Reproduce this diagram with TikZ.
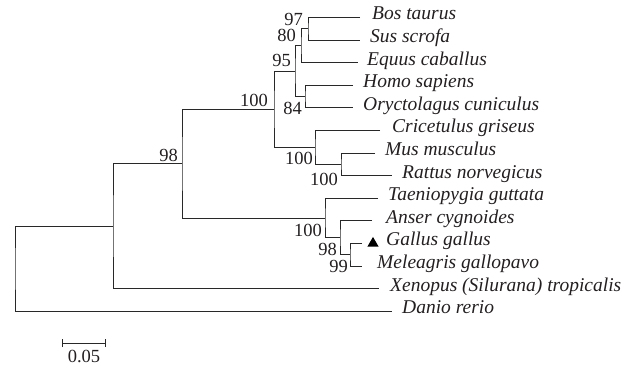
\documentclass[tikz,border=0pt]{standalone}
\usepackage{fontspec}
\setmainfont{Liberation Serif}
\usepackage{tikz}
\usetikzlibrary{arrows.meta,positioning,shapes.geometric}
\definecolor{treeline}{RGB}{40,40,40}
\definecolor{treetext}{RGB}{35,31,32}

\tikzset{
  branch/.style={treeline, line width=0.9pt},
  taxon/.style={anchor=mid west, inner sep=0pt, text=treetext, font=\fontsize{19.5}{23}\selectfont\itshape},
  boot/.style={anchor=east, inner sep=0pt, text=treetext, font=\fontsize{18.5}{22}\selectfont},
  marker/.style={regular polygon, regular polygon sides=3, fill=black, minimum size=13pt, inner sep=0pt},
}

\begin{document}
\begin{tikzpicture}[x=1pt, y=-1pt]
\useasboundingbox (0,0) rectangle (630,368);

% leaf tips
\coordinate (tBos) at (360,17.5);
\coordinate (tSus) at (360,40.1);
\coordinate (tEqu) at (358,62.7);
\coordinate (tHom) at (353,85.3);
\coordinate (tOry) at (353,107.9);
\coordinate (tCri) at (380,130.5);
\coordinate (tMus) at (375,153.1);
\coordinate (tRat) at (392,175.7);
\coordinate (tTae) at (378,198.3);
\coordinate (tAns) at (372,220.9);
\coordinate (tGal) at (362,243.5);
\coordinate (tMel) at (362,266.1);
\coordinate (tXen) at (379,288.7);
\coordinate (tDan) at (392,311.3);

% inner nodes
\coordinate (nBS)   at (308,28.8);
\coordinate (nBSE)  at (301,45.75);
\coordinate (nHO)   at (305,96.6);
\coordinate (nLau)  at (295,71.2);
\coordinate (nMR)   at (341,164.4);
\coordinate (nRod)  at (315,147.45);
\coordinate (nMam)  at (274,109.3);
\coordinate (nGM)   at (350,254.8);
\coordinate (nAGM)  at (340,237.85);
\coordinate (nBird) at (325,218.1);
\coordinate (nAmn)  at (182,163.7);
\coordinate (nTet)  at (113,226.2);
\coordinate (nRoot) at (15,268.75);

% branches
\draw[branch] (tBos) -| (nBS) |- (tSus);
\draw[branch] (nBS) -| (nBSE) |- (tEqu);
\draw[branch] (tHom) -| (nHO) |- (tOry);
\draw[branch] (nBSE) -| (nLau) |- (nHO);
\draw[branch] (tMus) -| (nMR) |- (tRat);
\draw[branch] (tCri) -| (nRod) |- (nMR);
\draw[branch] (nLau) -| (nMam) |- (nRod);
\draw[branch] (tGal) -| (nGM) |- (tMel);
\draw[branch] (tAns) -| (nAGM) |- (nGM);
\draw[branch] (tTae) -| (nBird) |- (nAGM);
\draw[branch] (nMam) -| (nAmn) |- (nBird);
\draw[branch] (nAmn) -| (nTet) |- (tXen);
\draw[branch] (nTet) -| (nRoot) |- (tDan);

% taxa
\node[taxon] (Bos) at (372,17.5) {Bos taurus};
\node[taxon] (Sus) at (370,40.1) {Sus scrofa};
\node[taxon] (Equ) at (367,62.7) {Equus caballus};
\node[taxon] (Hom) at (363,85.3) {Homo sapiens};
\node[taxon] (Ory) at (363,107.9) {Oryctolagus cuniculus};
\node[taxon] (Cri) at (392,130.5) {Cricetulus griseus};
\node[taxon] (Mus) at (385,153.1) {Mus musculus};
\node[taxon] (Rat) at (402,175.7) {Rattus norvegicus};
\node[taxon] (Tae) at (388,198.3) {Taeniopygia guttata};
\node[taxon] (Ans) at (386,220.9) {Anser cygnoides};
\node[taxon] (Gal) at (386,243.5) {Gallus gallus};
\node[taxon] (Mel) at (377,266.1) {Meleagris gallopavo};
\node[taxon] (Xen) at (390,288.7) {Xenopus (Silurana) tropicalis};
\node[taxon] (Dan) at (402,311.3) {Danio rerio};
\node[marker] (mGal) at (373,243.4) {};

% bootstrap values
\node[boot] (bBS)   at (303,19.5) {97};
\node[boot] (bBSE)  at (296,35.5) {80};
\node[boot] (bLau)  at (291,60) {95};
\node[boot] (bHO)   at (302,108) {84};
\node[boot] (bMam)  at (268,100) {100};
\node[boot] (bRod)  at (313,158) {100};
\node[boot] (bMR)   at (338,179) {100};
\node[boot] (bAmn)  at (178,155) {98};
\node[boot] (bBird) at (322,230) {100};
\node[boot] (bAGM)  at (337,249) {98};
\node[boot] (bGM)   at (348,266) {99};

% scale bar
\coordinate (sbL) at (62,343);
\coordinate (sbR) at (106,343);
\draw[branch, {Bar[width=8pt]}-{Bar[width=8pt]}] (sbL) -- (sbR);
\node[boot, anchor=center] (sbLab) at (84,356.5) {0.05};
\end{tikzpicture}
\end{document}
